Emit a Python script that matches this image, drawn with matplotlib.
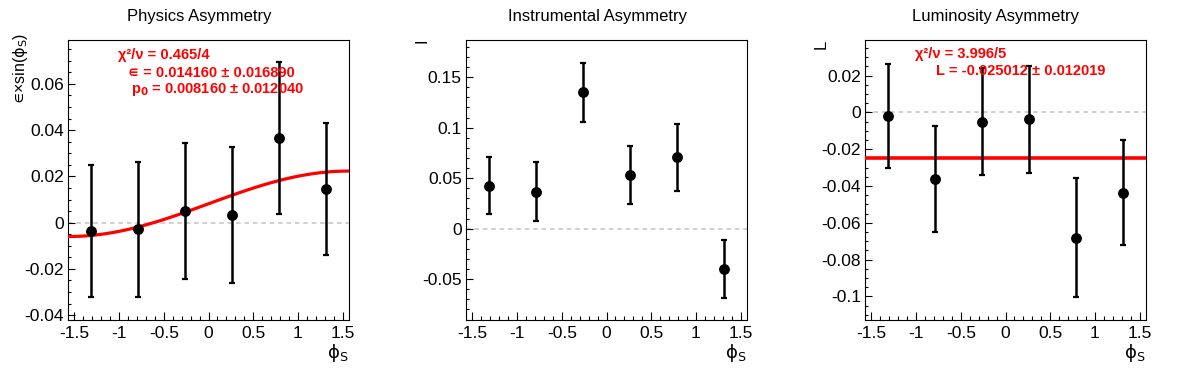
import numpy as np
import matplotlib
matplotlib.use("Agg")
import matplotlib.pyplot as plt
from matplotlib.ticker import MultipleLocator, FuncFormatter

plt.rcParams['font.family'] = ['Liberation Sans', 'DejaVu Sans']
plt.rcParams['axes.unicode_minus'] = False
plt.rcParams['mathtext.fontset'] = 'dejavusans'

# bin centres in phi_S
phi = [-1.309, -0.785, -0.262, 0.262, 0.785, 1.309]

# physics asymmetry
phys_val = [-0.0037, -0.0029, 0.0052, 0.0034, 0.0366, 0.0146]
phys_err = [0.0285, 0.0292, 0.0294, 0.0293, 0.0328, 0.0286]
fit_eps, fit_eps_err = 0.014160, 0.016890
fit_p0, fit_p0_err = 0.008160, 0.012040

# instrumental asymmetry
inst_val = [0.0425, 0.0368, 0.1350, 0.0528, 0.0706, -0.0398]
inst_err = [0.0283, 0.0288, 0.0290, 0.0287, 0.0330, 0.0287]

# luminosity asymmetry
lumi_val = [-0.0022, -0.0362, -0.0050, -0.0038, -0.0680, -0.0437]
lumi_err = [0.0283, 0.0290, 0.0292, 0.0292, 0.0325, 0.0285]
fit_L, fit_L_err = -0.025012, 0.012019

titles = ["Physics Asymmetry", "Instrumental Asymmetry", "Luminosity Asymmetry"]

fig = plt.figure(figsize=(11.96, 3.72), dpi=100)
W, H = 1196, 372
lefts = [68, 466, 865]
axes = [fig.add_axes([l / W, 1 - 320 / H, 281 / W, 280 / H]) for l in lefts]


def tick_fmt(v, p):
    if abs(v) < 1e-9:
        return "0"
    return "%g" % round(v, 6)


fmt = FuncFormatter(tick_fmt)
xlim = (-np.pi / 2, np.pi / 2)


def style_axes(ax, major_y, minor_y):
    ax.set_xlim(*xlim)
    ax.xaxis.set_major_locator(MultipleLocator(0.5))
    ax.xaxis.set_minor_locator(MultipleLocator(0.1))
    ax.yaxis.set_major_locator(MultipleLocator(major_y))
    ax.yaxis.set_minor_locator(MultipleLocator(minor_y))
    ax.xaxis.set_major_formatter(fmt)
    ax.yaxis.set_major_formatter(fmt)
    ax.tick_params(which='both', direction='in', top=False, right=False,
                   labelsize=12.5, width=0.8)
    ax.tick_params(axis='x', which='major', length=6, pad=4)
    ax.tick_params(axis='x', which='minor', length=3)
    ax.tick_params(axis='y', which='major', length=5, pad=3)
    ax.tick_params(axis='y', which='minor', length=2.5)
    for s in ax.spines.values():
        s.set_linewidth(0.8)
    ax.axhline(0, color='#c4c4c4', lw=1.1, ls=(0, (3, 2.5)), zorder=1)
    x_right = ax.get_position().x1 * W - 1
    fig.text(x_right / W, 1 - 342 / H, r"$\mathrm{\phi}_\mathrm{S}$",
             ha='right', va='top', fontsize=13)


def draw_points(ax, vals, errs):
    ax.errorbar(phi, vals, yerr=errs, fmt='o', color='black', ms=6.8,
                elinewidth=1.8, capsize=2.2, capthick=1.6, zorder=4)


red = dict(color='red', fontsize=10.5, fontweight='bold', va='center', ha='left')

# panel 1
ax = axes[0]
style_axes(ax, 0.02, 0.005)
ax.set_ylim(-0.0421, 0.079)
xs = np.linspace(xlim[0], xlim[1], 100)
ax.plot(xs, fit_p0 + fit_eps * np.sin(xs), color='red', lw=2.3, zorder=3)
draw_points(ax, phys_val, phys_err)
fig.text(20 / W, 1 - 33 / H, r"$∊$×sin($\mathrm{\phi}_\mathrm{S}$)", rotation=90,
         ha='center', va='top', fontsize=11.5)
fig.text(118 / W, 1 - 55 / H, "χ²/ν = 0.465/4", **red)
fig.text(128 / W, 1 - 73 / H, "∊ = %.6f ± %.6f" % (fit_eps, fit_eps_err), **red)
fig.text(131 / W, 1 - 90 / H, r"p$_\mathbf{0}$ = %.6f ± %.6f" % (fit_p0, fit_p0_err), **red)

# panel 2
ax = axes[1]
style_axes(ax, 0.05, 0.01)
ax.set_ylim(-0.0904, 0.1868)
draw_points(ax, inst_val, inst_err)
fig.text(422 / W, 1 - 41 / H, "I", rotation=90, ha='center', va='center', fontsize=12)

# panel 3
ax = axes[2]
style_axes(ax, 0.02, 0.005)
ax.set_ylim(-0.1128, 0.0393)
ax.axhline(fit_L, color='red', lw=2.6, zorder=3)
draw_points(ax, lumi_val, lumi_err)
fig.text(821 / W, 1 - 44.5 / H, "L", rotation=90, ha='center', va='center', fontsize=12)
fig.text(915 / W, 1 - 54 / H, "χ²/ν = 3.996/5", **red)
fig.text(936 / W, 1 - 71 / H, "L = %.6f ± %.6f" % (fit_L, fit_L_err), **red)

centers = [199, 597, 996]
for c, t in zip(centers, titles):
    fig.text(c / W, 1 - 16 / H, t, ha='center', va='center', fontsize=12)

plt.savefig("out.png", dpi=100)
